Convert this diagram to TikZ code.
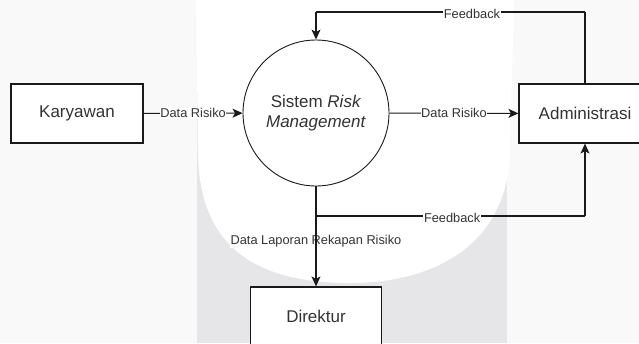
\documentclass[tikz,border=0pt]{standalone}
\usepackage{fontspec}
\setmainfont{Liberation Sans}
\usetikzlibrary{arrows.meta}

\definecolor{pagebg}{HTML}{F9F9F9}
\definecolor{bandbg}{HTML}{E6E6E8}
\definecolor{inkline}{HTML}{1A1A1A}
\definecolor{inktext}{HTML}{333333}

\tikzset{
  entity/.style={draw=inkline, line width=1.2pt, fill=white, rectangle,
    minimum width=132pt, minimum height=59pt, inner sep=0pt,
    font=\fontsize{17}{20}\selectfont, text=inktext},
  process/.style={draw=inkline, line width=0.9pt, fill=white, circle,
    minimum size=146pt, inner sep=0pt, align=center,
    font=\fontsize{17}{20.5}\selectfont, text=inktext},
  flow/.style={draw=inkline, line width=1.1pt,
    -{Stealth[length=10pt, width=9pt, inset=2.5pt]}},
  plain/.style={draw=inkline, line width=1.1pt},
  lbl/.style={fill=white, inner sep=0.6pt, text=inktext,
    font=\fontsize{12.8}{14}\selectfont}
}

\begin{document}
\begin{tikzpicture}[x=1pt, y=-1pt]
  \useasboundingbox (0,0) rectangle (639,343);
  \clip (0,0) rectangle (639,343);

  % backdrop: pale page, grey band, white rounded panel
  \fill[pagebg] (0,0) rectangle (639,343);
  \fill[bandbg] (197,0) rectangle (507,343);
  \fill[white] (196,0) -- (198,150)
    .. controls (198,242) and (250,283) .. (350,283)
    .. controls (440,283) and (509,240) .. (510,150)
    -- (514,0) -- cycle;

  % entities and process
  \node[entity] (kar) at (77,113.5) {Karyawan};
  \node[process] (sys) at (316,113) {Sistem \textit{Risk}\\\textit{Management}};
  \node[entity] (adm) at (585,113.5) {Administrasi};
  \node[entity, minimum width=131pt] (dir) at (316,316.5) {Direktur};

  % routing points
  \coordinate (tr) at (585,12);
  \coordinate (tl) at (316,12);
  \coordinate (bl) at (316,216);
  \coordinate (bc) at (585,216);

  % data flows
  \draw[flow] (kar) -- node[lbl]{Data Risiko} (sys);
  \draw[flow] (sys) -- node[lbl]{Data Risiko} (adm);

  \draw[plain] (adm.north) -- (tr);
  \draw[plain] (tr) -- node[lbl, pos=0.42, yshift=-2pt]{Feedback} (tl);
  \draw[flow] (tl) -- (sys.north);

  \node[lbl] (rekap) at (316,241) {Data Laporan Rekapan Risiko};
  \draw[flow] (sys.south) -- (dir.north);

  \draw[plain] (bl) -- node[lbl, pos=0.506, yshift=-2pt]{Feedback} (bc);
  \draw[flow] (bc) -- (adm.south);
\end{tikzpicture}
\end{document}
